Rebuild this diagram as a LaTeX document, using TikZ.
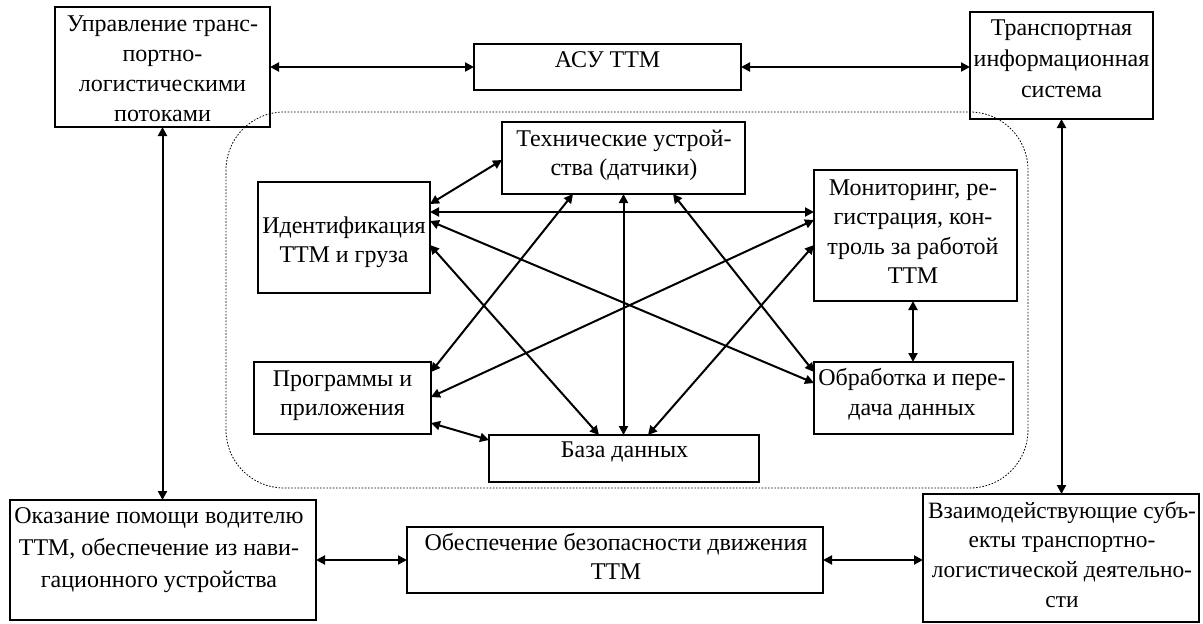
\documentclass[tikz,border=0pt]{standalone}
\usepackage{fontspec}
\setmainfont{Liberation Serif}
\usetikzlibrary{arrows.meta,calc}
\tikzset{
  box/.style={draw, line width=2pt, inner sep=0pt, outer sep=0pt},
  txt/.style={inner sep=0pt, outer sep=0pt},
  conn/.style={line width=2pt, {Triangle[length=9pt,width=9pt]}-{Triangle[length=9pt,width=9pt]}},
  zone/.style={dash pattern=on 1.6pt off 1.6pt, line width=0.8pt, rounded corners=58pt}
}
\newcommand\mkbox[5]{\node[box, minimum width={(#4-#2)*1pt}, minimum height={(#5-#3)*1pt}] (#1) at ({(#2+#4)/2},{(#3+#5)/2}) {};}
\newcommand\mktext[6][24]{\node[txt, anchor=base, font=\fontsize{#1}{#5}\selectfont] (#2) at (#3,#4) {\begin{tabular}[t]{@{}c@{}}#6\end{tabular}};}
\begin{document}
\begin{tikzpicture}[x=1pt,y=-1pt]
\useasboundingbox (0,0) rectangle (1203,624);
% dotted zone
\draw[zone] (226,112) rectangle (1028,488);
% boxes
\mkbox{up}{55}{7}{270}{127}
\mkbox{asu}{474}{44}{741}{90}
\mkbox{tis}{970}{12}{1153}{119}
\mkbox{tekh}{502}{122}{745}{194}
\mkbox{ident}{258}{182}{430}{293}
\mkbox{mon}{814}{170}{1017}{301}
\mkbox{prog}{254}{362}{431}{434}
\mkbox{obr}{814}{362}{1013}{434}
\mkbox{baza}{489}{435}{759}{482}
\mkbox{okz}{10}{500}{316}{620}
\mkbox{obs}{407}{527}{823}{593}
\mkbox{vzm}{923}{494}{1199}{622}
% texts
\mktext{tup}{162.5}{31}{30}{Управление транс-\\портно-\\логистическими\\потоками}
\mktext{tasu}{607.5}{67}{30}{АСУ ТТМ}
\mktext{ttis}{1061.5}{35}{31}{Транспортная\\информационная\\система}
\mktext{ttekh}{624}{146}{29}{Технические устрой-\\ства (датчики)}
\mktext{tident}{344}{233}{29}{Идентификация\\ТТМ и груза}
\mktext{tmon}{913}{195}{29.5}{Мониторинг, ре-\\гистрация, кон-\\троль за работой\\ТТМ}
\mktext{tprog}{342.5}{386}{29}{Программы и\\приложения}
\mktext{tobr}{912}{385}{30}{Обработка и пере-\\дача данных}
\mktext{tbaza}{624.5}{457}{30}{База данных}
\mktext{tokz}{159}{523}{32}{Оказание помощи водителю\\ТТМ, обеспечение из нави-\\гационного устройства}
\mktext{tobs}{616}{550}{29}{Обеспечение безопасности движения\\ТТМ}
\mktext[23.4]{tvzm}{1062}{518}{29.7}{Взаимодействующие субъ-\\екты транспортно-\\логистической деятельно-\\сти}
% outer connectors
\draw[conn] (up.east) -- (asu.west);
\draw[conn] (asu.east) -- (asu.east -| tis.west);
\draw[conn] (up.south) -- (up.south |- okz.north);
\draw[conn] (tis.south) -- (tis.south |- vzm.north);
\draw[conn] (okz.east) -- (obs.west);
\draw[conn] (obs.east) -- (obs.east -| vzm.west);
% inner connectors
\coordinate (b1a) at ($(tekh.north west)+(0,38)$);
\coordinate (b1b) at ($(ident.north east)+(0,22)$);
\draw[conn] (b1a) -- (b1b);
\coordinate (b2a) at ($(ident.north east)+(0,30)$);
\draw[conn] (b2a) -- (b2a -| mon.west);
\coordinate (b3a) at ($(ident.north east)+(0,39)$);
\coordinate (b3b) at ($(obr.north west)+(0,21)$);
\draw[conn] (b3a) -- (b3b);
\coordinate (b4a) at ($(ident.north east)+(0,63)$);
\coordinate (b4b) at ($(baza.north west)+(110,0)$);
\draw[conn] (b4a) -- (b4b);
\coordinate (b5a) at ($(tekh.south west)+(71,0)$);
\coordinate (b5b) at ($(prog.north east)+(0,10)$);
\draw[conn] (b5a) -- (b5b);
\draw[conn] (tekh.south) -- (tekh.south |- baza.north);
\coordinate (b7a) at ($(tekh.south west)+(171,0)$);
\coordinate (b7b) at ($(obr.north west)+(0,10)$);
\draw[conn] (b7a) -- (b7b);
\coordinate (b8a) at ($(mon.north west)+(0,50)$);
\coordinate (b8b) at ($(prog.north east)+(0,35)$);
\draw[conn] (b8a) -- (b8b);
\coordinate (b9a) at ($(mon.north west)+(0,75)$);
\coordinate (b9b) at ($(baza.north west)+(159,0)$);
\draw[conn] (b9a) -- (b9b);
\coordinate (b10a) at ($(mon.south west)+(99,0)$);
\draw[conn] (b10a) -- (b10a |- obr.north);
\coordinate (b11a) at ($(prog.north east)+(0,61)$);
\coordinate (b11b) at ($(baza.north west)+(0,5)$);
\draw[conn] (b11a) -- (b11b);
\end{tikzpicture}
\end{document}
